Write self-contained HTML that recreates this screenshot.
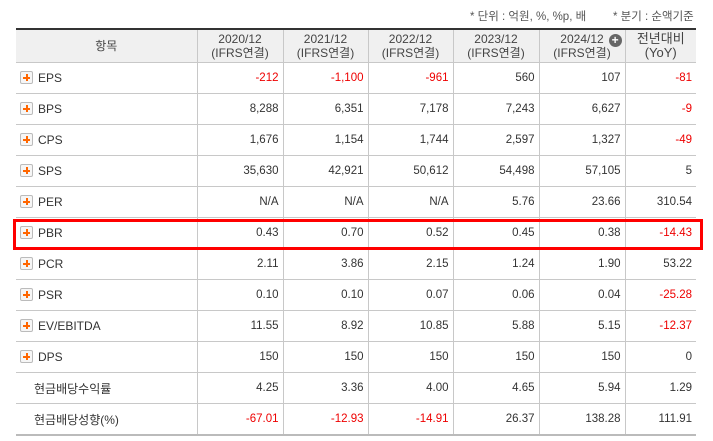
<!DOCTYPE html>
<html><head><meta charset="utf-8"><style>
body{margin:0;width:713px;height:441px;background:#fff;font-family:"Liberation Sans","Noto Sans CJK KR",sans-serif;font-size:12px;color:#333;position:relative;overflow:hidden}
.note{position:absolute;top:8px;font-size:11.5px;color:#555}
table{position:absolute;left:16px;top:28px;width:680px;border-collapse:collapse;table-layout:fixed;border-top:2px solid #333;border-bottom:2px solid #bbb}
th{background:#f0f0f0;font-weight:normal;height:32px;line-height:14px;border-bottom:1px solid #c8c8c8;border-left:1px solid #c8c8c8;color:#444;font-size:12px;padding:0}
th:first-child{border-left:none}
td{height:30px;border-bottom:1px solid #c8c8c8;border-left:1px solid #c8c8c8;text-align:right;padding:0 4px 0 0;font-size:11.5px}
td:first-child{border-left:none;text-align:left;padding-left:4px;font-size:12px}
.neg{color:#e00}
.pl{display:inline-block;width:11px;height:11px;border:1px solid #bbb;background:#f6f6f6;vertical-align:-2px;margin-right:5px;position:relative;border-radius:2px}
.pl:before{content:"";position:absolute;left:2px;top:4.5px;width:7px;height:2px;background:#f60}
.pl:after{content:"";position:absolute;left:4.5px;top:2px;width:2px;height:7px;background:#f60}
.hl{position:absolute;left:13px;top:219px;width:684px;height:25px;border:3px solid #f00}
.plus{display:inline-block;width:13px;height:13px;border-radius:50%;background:#666;color:#fff;font-size:12px;line-height:13px;text-align:center;position:absolute;right:-4px;top:2px;font-weight:bold}
</style></head><body>
<div class="note" style="left:470px">* 단위 : 억원, %, %p, 배</div>
<div class="note" style="left:613px">* 분기 : 순액기준</div>
<table>
<colgroup><col style="width:181px"><col style="width:86px"><col style="width:85px"><col style="width:85px"><col style="width:86px"><col style="width:86px"><col style="width:71px"></colgroup>
<thead><tr>
<th>항목</th>
<th>2020/12<br>(IFRS연결)</th>
<th>2021/12<br>(IFRS연결)</th>
<th>2022/12<br>(IFRS연결)</th>
<th>2023/12<br>(IFRS연결)</th>
<th><span style="position:relative;display:inline-block">2024/12<span class="plus" style="right:-18px">+</span></span><br>(IFRS연결)</th>
<th style="font-size:13px">전년대비<br>(YoY)</th>
</tr></thead>
<tbody id="tb"></tbody></table>
<div class="hl"></div>
<script>
const rows=[
["EPS",1,["-212","-1,100","-961","560","107","-81"]],
["BPS",1,["8,288","6,351","7,178","7,243","6,627","-9"]],
["CPS",1,["1,676","1,154","1,744","2,597","1,327","-49"]],
["SPS",1,["35,630","42,921","50,612","54,498","57,105","5"]],
["PER",1,["N/A","N/A","N/A","5.76","23.66","310.54"]],
["PBR",1,["0.43","0.70","0.52","0.45","0.38","-14.43"]],
["PCR",1,["2.11","3.86","2.15","1.24","1.90","53.22"]],
["PSR",1,["0.10","0.10","0.07","0.06","0.04","-25.28"]],
["EV/EBITDA",1,["11.55","8.92","10.85","5.88","5.15","-12.37"]],
["DPS",1,["150","150","150","150","150","0"]],
["현금배당수익률",0,["4.25","3.36","4.00","4.65","5.94","1.29"]],
["현금배당성향(%)",0,["-67.01","-12.93","-14.91","26.37","138.28","111.91"]]];
const tb=document.getElementById('tb');
rows.forEach(r=>{
const tr=document.createElement('tr');


const td=document.createElement('td');


if(r[1]){const s=document.createElement('span');s.className='pl';


td.appendChild(s);td.appendChild(document.createTextNode(r[0]));}
else{td.style.paddingLeft='18px';td.textContent=r[0];}
tr.appendChild(td);
r[2].forEach(v=>{const c=document.createElement('td');


c.textContent=v;if(v[0]==='-')c.className='neg';tr.appendChild(c);});
tb.appendChild(tr);});
</script>
</body></html>
